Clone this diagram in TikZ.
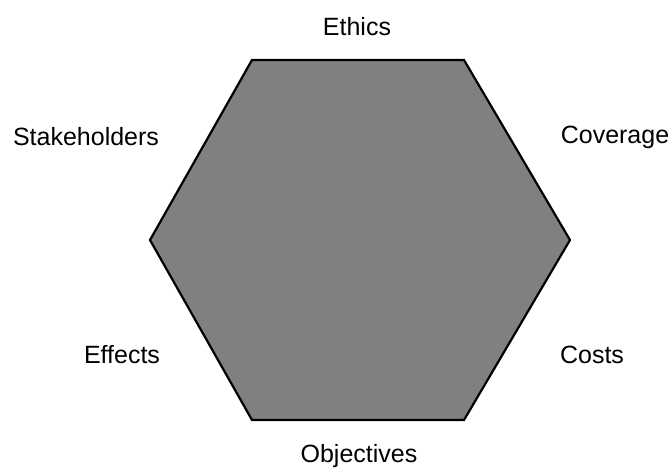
\documentclass[tikz,border=0pt]{standalone}
\usepackage{fontspec}
\setmainfont{Liberation Sans}
\begin{document}
\begin{tikzpicture}[x=1pt,y=-1pt,
  lbl/.style={font=\fontsize{25}{28}\selectfont, inner sep=0pt, anchor=center},
  hexa/.style={draw=black, line width=2.2pt, fill=black!50, line join=miter}]
\useasboundingbox (0,0) rectangle (672,469);
\coordinate (tl) at (252,60);
\coordinate (tr) at (464,60);
\coordinate (r) at (570,240);
\coordinate (br) at (464,420);
\coordinate (bl) at (252,420);
\coordinate (l) at (150,240);
\draw[hexa] (tl) -- (tr) -- (r) -- (br) -- (bl) -- (l) -- cycle;
\node[lbl] (ethics) at (357,27) {Ethics};
\node[lbl] (stake) at (86,137) {Stakeholders};
\node[lbl] (cov) at (615,137) {Coverage};
\node[lbl] (eff) at (122,355) {Effects};
\node[lbl] (costs) at (592,355) {Costs};
\node[lbl] (obj) at (359,456) {Objectives};
\end{tikzpicture}
\end{document}
